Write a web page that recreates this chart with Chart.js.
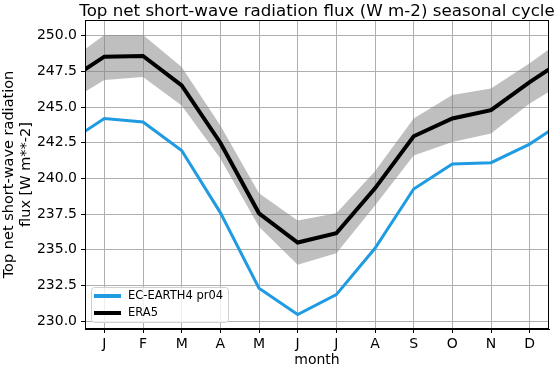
<!DOCTYPE html>
<html>
<head>
<meta charset="utf-8">
<script src="https://cdn.jsdelivr.net/npm/chart.js@4.4.1/dist/chart.umd.min.js"></script>
<style>
  html, body { margin: 0; padding: 0; background: #ffffff; }
  #wrap { width: 554px; height: 369px; }
</style>
</head>
<body>
<div id="wrap"><canvas id="c" width="554" height="369"></canvas></div>
<script>
// ---- data ----
const months = ['J','F','M','A','M','J','J','A','S','O','N','D'];
const ecEarth = [244.2, 243.95, 241.95, 237.6, 232.3, 230.45, 231.85, 235.1, 239.25, 241.0, 241.1, 242.4];
const era5 = [248.53, 248.58, 246.52, 242.5, 237.55, 235.5, 236.15, 239.3, 242.95, 244.2, 244.78, 246.75];
const era5Upper = [250.05, 250.05, 247.8, 243.7, 238.95, 237.05, 237.55, 240.5, 244.2, 245.84, 246.3, 248.06];
const era5Lower = [246.9, 247.1, 245.1, 241.4, 236.6, 233.95, 234.75, 238.1, 241.6, 242.55, 243.15, 245.25];
const yTicks = [230.0, 232.5, 235.0, 237.5, 240.0, 242.5, 245.0, 247.5, 250.0];
const titleText = 'Top net short-wave radiation flux (W m-2) seasonal cycle';
const yTitle = ['Top net short-wave radiation', 'flux [W m**-2]'];
const xTitle = 'month';
const seriesNames = ['EC-EARTH4 pr04', 'ERA5'];

// cyclic series: December before January, January after December
function cyclic(arr) {
  const full = [arr[arr.length - 1]].concat(arr, [arr[0]]);
  return full.map((v, i) => ({ x: i, y: v }));
}

const FONT = 'DejaVu Sans';
const BLUE = '#1f9be2';

const frameAndExtras = {
  id: 'frameAndExtras',
  afterDraw(chart) {
    const ctx = chart.ctx;
    const a = chart.chartArea;
    ctx.save();
    // axes frame
    ctx.strokeStyle = '#000';
    ctx.lineWidth = 1;
    ctx.strokeRect(Math.round(a.left) + 0.5, Math.round(a.top) + 0.5,
                   Math.round(a.right - a.left) - 1, Math.round(a.bottom - a.top) - 1);
    // title centred on plot area
    ctx.fillStyle = '#000';
    ctx.font = '16.7px "' + FONT + '"';
    ctx.textAlign = 'center';
    ctx.textBaseline = 'alphabetic';
    ctx.fillText(titleText, (a.left + a.right) / 2, a.top - 4);

    // legend (lower left inside the axes)
    const lx = a.left + 6, ly = a.bottom - 42, lw = 137, lh = 35;
    ctx.fillStyle = 'rgba(255,255,255,0.8)';
    ctx.strokeStyle = '#d0d0d0';
    ctx.lineWidth = 1;
    ctx.beginPath();
    if (ctx.roundRect) ctx.roundRect(lx + 0.5, ly + 0.5, lw, lh, 3); else ctx.rect(lx + 0.5, ly + 0.5, lw, lh);
    ctx.fill();
    ctx.stroke();
    const ds = chart.data.datasets;
    const items = [ds[1], ds[0]];
    items.forEach((d, i) => {
      const y = ly + 9 + i * 17;
      ctx.strokeStyle = d.borderColor;
      ctx.lineWidth = 4;
      ctx.beginPath();
      ctx.moveTo(lx + 3, y);
      ctx.lineTo(lx + 30, y);
      ctx.stroke();
      ctx.fillStyle = '#000';
      ctx.font = '11.5px "' + FONT + '"';
      ctx.textAlign = 'left';
      ctx.textBaseline = 'middle';
      ctx.fillText(d.label, lx + 37, y);
    });
    ctx.restore();
  }
};

new Chart(document.getElementById('c'), {
  type: 'line',
  data: {
    datasets: [
      { label: seriesNames[1], data: cyclic(era5), borderColor: '#000000', borderWidth: 4,
        pointRadius: 0, fill: false, clip: 0, tension: 0 },
      { label: seriesNames[0], data: cyclic(ecEarth), borderColor: BLUE, borderWidth: 3,
        pointRadius: 0, fill: false, clip: 0, tension: 0 },
      { label: 'upper', data: cyclic(era5Upper), borderWidth: 0, borderColor: 'rgba(0,0,0,0)',
        backgroundColor: 'rgba(128,128,128,0.5)', pointRadius: 0, fill: 3, clip: 0 },
      { label: 'lower', data: cyclic(era5Lower), borderWidth: 0, borderColor: 'rgba(0,0,0,0)',
        pointRadius: 0, fill: false, clip: 0 }
    ]
  },
  options: {
    responsive: false,
    animation: false,
    events: [],
    layout: { padding: { top: 20, right: 5, left: 0, bottom: 0 } },
    plugins: { legend: { display: false }, title: { display: false }, tooltip: { enabled: false } },
    scales: {
      x: {
        type: 'linear', min: 0.5, max: 12.5,
        afterBuildTicks(scale) { scale.ticks = months.map((m, i) => ({ value: i + 1 })); },
        afterFit(scale) { scale.height = 40; },
        ticks: { autoSkip: false, maxRotation: 0, padding: 3, color: '#000',
                 font: { family: FONT, size: 14 },
                 callback: (v) => months[v - 1] },
        grid: { color: '#b0b0b0', lineWidth: 1, tickLength: 4, tickColor: '#000', drawTicks: true },
        border: { display: true, color: '#000', width: 1 },
        title: { display: true, text: xTitle, color: '#000', font: { family: FONT, size: 14 },
                 padding: { top: 0, bottom: 0 } }
      },
      y: {
        type: 'linear', min: 229.44, max: 251.1,
        afterBuildTicks(scale) { scale.ticks = yTicks.map(v => ({ value: v })); },
        afterFit(scale) { scale.width = 85; },
        ticks: { padding: 4, color: '#000', font: { family: FONT, size: 14 },
                 callback: (v) => Number(v).toFixed(1) },
        grid: { color: '#b0b0b0', lineWidth: 1, tickLength: 4, tickColor: '#000', drawTicks: true },
        border: { display: true, color: '#000', width: 1 },
        title: { display: true, text: yTitle, color: '#000', font: { family: FONT, size: 14.5, lineHeight: 1.18 },
                 padding: { top: 1, bottom: 0 } }
      }
    }
  },
  plugins: [frameAndExtras]
});
</script>
</body>
</html>
